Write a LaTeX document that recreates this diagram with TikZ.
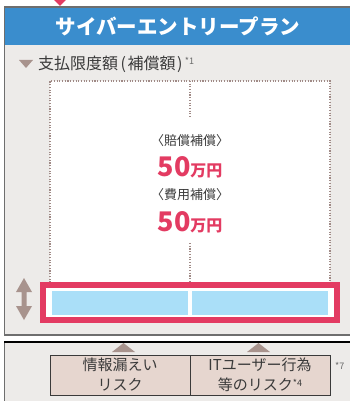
\documentclass[tikz,border=0pt]{standalone}
\usepackage{fontspec}
\setmainfont{Noto Sans CJK JP}
\definecolor{hdrblue}{HTML}{3A8DCD}
\definecolor{panelgrey}{HTML}{EDEBE9}
\definecolor{bordergrey}{HTML}{6E6E6E}
\definecolor{accred}{HTML}{E33B62}
\definecolor{lightblue}{HTML}{AADFF8}
\definecolor{riskfill}{HTML}{E6D6CF}
\definecolor{tribrown}{HTML}{A8938D}
\definecolor{dotbrown}{HTML}{A08A86}
\definecolor{txtgrey}{HTML}{3A3A3A}
\tikzset{
  dotline/.style={draw=dotbrown, line width=1.1pt, dash pattern=on 1.1pt off 1.6pt},
  riskbox/.style={draw=txtgrey, line width=0.9pt, fill=riskfill, minimum width=140pt, minimum height=40pt, inner sep=0pt, align=center, font=\fontsize{15}{20}\selectfont, text=txtgrey},
  amount/.style={text=accred, font=\bfseries, inner sep=0pt},
  label/.style={text=txtgrey, font=\fontsize{13}{14}\selectfont, inner sep=0pt},
  notefont/.style={text=txtgrey!75, font=\fontsize{9}{10}\selectfont, inner sep=0pt}
}
\begin{document}
\begin{tikzpicture}[x=1pt,y=-1pt]
\useasboundingbox (0,0) rectangle (350,401);
% top pointer
\fill[accred] (54,0) -- (66,0) -- (60,6) -- cycle;
% upper panel
\fill[panelgrey] (4,7) rectangle (352,335);
\fill[hdrblue] (4,7) rectangle (352,45);
\draw[bordergrey, line width=1.5pt] (352,7) -- (4.5,7) -- (4.5,335) -- (352,335);
\node[text=white, font=\bfseries\fontsize{20.5}{22}\selectfont, inner sep=0pt] (title) at (178,26) {サイバーエントリープラン};
% subheading
\fill[tribrown] (19,60) -- (33,60) -- (26,68) -- cycle;
\node[anchor=west, text=txtgrey, font=\fontsize{16}{17}\selectfont, inner sep=0pt] (limit) at (38,64.5) {支払限度額\kern2.5pt(\kern1.5pt補償額\kern1.5pt)};
\node[anchor=west, notefont] (note1) at (limit.east) [xshift=2pt, yshift=3.5pt] {*1};
% white dotted area
\fill[white] (50,81) rectangle (330,285);
\draw[dotline] (50,285) -- (50,81) -- (330,81) -- (330,285);
\draw[dotline] (190,81) -- (190,118);
\draw[dotline] (190,243) -- (190,285);
% amounts
\node[label] (l1) at (190,141) {〈賠償補償〉};
\node[amount] (a1) at (190,167) {\fontsize{27}{28}\selectfont 50\fontsize{16}{17}\selectfont 万円};
\node[label] (l2) at (190,195) {〈費用補償〉};
\node[amount] (a2) at (190,222) {\fontsize{27}{28}\selectfont 50\fontsize{16}{17}\selectfont 万円};
% red frame
\draw[accred, fill=white, line width=6pt] (43,285) rectangle (337,320);
\fill[lightblue] (52,291) rectangle (188,315);
\fill[lightblue] (192,291) rectangle (328,315);
% double arrow
\fill[tribrown] (24,278) -- (32,292) -- (26.5,292) -- (26.5,306) -- (32,306) -- (24,320) -- (16,306) -- (21.5,306) -- (21.5,292) -- (16,292) -- cycle;
% lower panel
\fill[panelgrey] (4,342) rectangle (352,405);
\draw[bordergrey, line width=1.5pt] (4.5,405) -- (4.5,342);
\draw[black, line width=1.2pt] (4,342) -- (352,342);
\fill[tribrown] (112,352) -- (135,352) -- (123.5,343) -- cycle;
\fill[tribrown] (247,352) -- (270,352) -- (258.5,343) -- cycle;
\node[riskbox] (r1) at (120,375) {情報漏えい\\リスク};
\node[riskbox] (r2) at (260,375) {ITユーザー行為\\等のリスク\raisebox{4.5pt}{\fontsize{9}{10}\selectfont *4}};
\node[anchor=north west, notefont] (note7) at (335,362) {*7};
\end{tikzpicture}
\end{document}
